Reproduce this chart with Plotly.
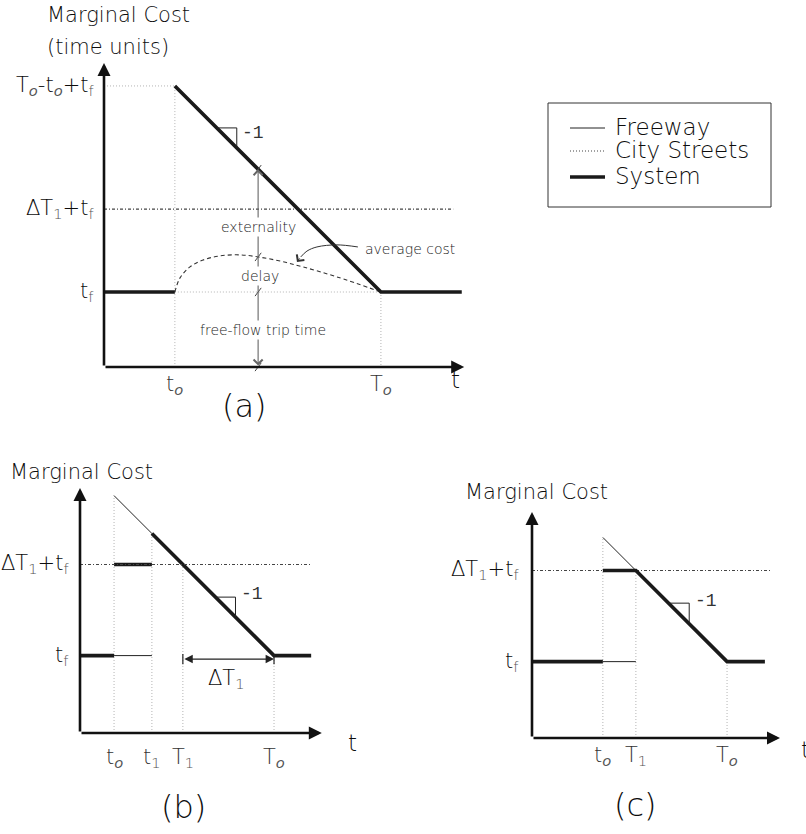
import plotly.graph_objects as go

W, H = 806, 834
S = 34.4  # pixels per data unit (same on both axes so that slope -1 looks like 45 degrees)

FONT = "DejaVu Sans"
WEIGHT = 200
MONO = "Liberation Mono"
TXT = "#0d0d0d"

# ---------------- data: panel (a) ----------------
a_t0 = 2.06
a_T0 = 8.05
a_tf = 2.18
a_dT1tf = 4.59
a_top = a_tf + (a_T0 - a_t0)          # T_o - t_o + t_f
a_xmax = 10.47
a_ymax = 8.84
a_sys_end = 10.4
a_city_end = 10.15
a_probe_t = 4.48
a_avg_t = [a_t0, 2.21, 2.50, 2.88, 3.37, 3.95, 4.48, 5.12, 5.78, 6.77, a_T0]
a_avg_y = [a_tf, 2.59, 2.91, 3.11, 3.23, 3.26, 3.20, 3.08, 2.91, 2.62, a_tf]
a_ptr_t = [7.38, 6.77, 6.19, 5.90, 5.72]
a_ptr_y = [3.49, 3.55, 3.49, 3.37, 3.20]
a_ptr_tip = (5.61, 3.05)
a_slope_y = 6.95

# ---------------- data: panel (b) ----------------
b_t0 = 0.99
b_t1 = 2.09
b_T1 = 2.99
b_T0 = 5.64
b_tf = 2.25
b_dT1 = b_T0 - b_T1
b_lvl = b_tf + b_dT1
b_xmax = 7.03
b_ymax = 7.12
b_sys_end = 6.72
b_city_end = 6.74
b_slope_y = 3.95

# ---------------- data: panel (c) ----------------
c_t0 = 2.06
c_T1 = 3.02
c_T0 = 5.67
c_tf = 2.22
c_dT1 = c_T0 - c_T1
c_lvl = c_tf + c_dT1
c_xmax = 7.21
c_ymax = 6.57
c_sys_end = 6.77
c_city_end = 6.92
c_slope_y = 3.92

O = "<sub><i><span style='color:#555555'>o</span></i></sub>"
F = "<sub><span style='color:#555555'>f</span></sub>"
ONE = "<sub><span style='color:#555555'>1</span></sub>"

legend_names = ["Freeway", "City Streets", "System"]

# ---------------- layout of the three panels (pixel frames) ----------------
panels = {
    "a": dict(sfx="", ox=104, oy=367, xpx=(88, 478), ypx=(52, 382)),
    "b": dict(sfx="2", ox=80, oy=733, xpx=(58, 338), ypx=(478, 748)),
    "c": dict(sfx="3", ox=532, oy=738, xpx=(512, 801), ypx=(498, 752)),
}

fig = go.Figure()
layout_axes = {}
for k, p in panels.items():
    xr = [(p["xpx"][0] - p["ox"]) / S, (p["xpx"][1] - p["ox"]) / S]
    yr = [(p["oy"] - p["ypx"][1]) / S, (p["oy"] - p["ypx"][0]) / S]
    xd = [p["xpx"][0] / W, p["xpx"][1] / W]
    yd = [1 - p["ypx"][1] / H, 1 - p["ypx"][0] / H]
    layout_axes["xaxis" + p["sfx"]] = dict(domain=xd, range=xr, visible=False,
                                           anchor="y" + p["sfx"], fixedrange=True)
    layout_axes["yaxis" + p["sfx"]] = dict(domain=yd, range=yr, visible=False,
                                           anchor="x" + p["sfx"], fixedrange=True)

SYS = dict(width=3.6, color="#1a1a1a")
FWY = dict(width=1.0, color="#222222")
CITY = dict(width=1.1, color="#444444", dash="3px,2px,1px,2px")
HELP = dict(width=1.0, color="#b4b4b4", dash="1px,2px")
AVG = dict(width=1.1, color="#333333", dash="4px,3px")
THIN = dict(width=1.0, color="#222222")


def fnt(size, family=FONT, color=TXT):
    d = dict(size=size, family=family, color=color)
    if family == FONT:
        d["weight"] = WEIGHT
    return d


def line(k, xs, ys, style, shape="linear"):
    sfx = panels[k]["sfx"]
    st = dict(style)
    st["shape"] = shape
    fig.add_trace(go.Scatter(x=xs, y=ys, xaxis="x" + sfx, yaxis="y" + sfx, mode="lines",
                             line=st, showlegend=False, hoverinfo="skip"))


def txt(k, text, x, y, size=20, xanchor="center", yanchor="middle", xshift=0, yshift=0,
        family=FONT, color=TXT, bg=None):
    sfx = panels[k]["sfx"]
    d = dict(x=x, y=y, xref="x" + sfx, yref="y" + sfx, text=text, showarrow=False,
             xanchor=xanchor, yanchor=yanchor, xshift=xshift, yshift=yshift,
             font=fnt(size, family, color))
    if bg:
        d.update(bgcolor=bg, borderpad=1)
    fig.add_annotation(**d)


def arrow(k, x, y, ax, ay, width=2.6, head=2, size=1.0, color="#111111", both=False):
    sfx = panels[k]["sfx"]
    d = dict(x=x, y=y, ax=ax, ay=ay, xref="x" + sfx, yref="y" + sfx, axref="x" + sfx,
             ayref="y" + sfx, text="", showarrow=True, arrowhead=head, arrowsize=size,
             arrowwidth=width, arrowcolor=color, standoff=0, startstandoff=0)
    if both:
        d.update(arrowside="end+start", startarrowhead=head, startarrowsize=size)
    fig.add_annotation(**d)


def paper_txt(text, px, py, size, xanchor="center", yanchor="middle", family=FONT):
    fig.add_annotation(x=px / W, y=1 - py / H, xref="paper", yref="paper", text=text,
                       showarrow=False, xanchor=xanchor, yanchor=yanchor,
                       font=fnt(size, family))


def axes(k, xmax, ymax):
    arrow(k, xmax, 0, 0, 0)
    arrow(k, 0, ymax, 0, 0)


# ================= panel (a) =================
line("a", [0, a_t0, a_t0], [a_top, a_top, 0], HELP)
line("a", [a_t0, a_T0], [a_tf, a_tf], HELP)
line("a", [a_T0, a_T0], [a_tf, 0], HELP)
line("a", [0, a_city_end], [a_dT1tf, a_dT1tf], CITY)
line("a", a_avg_t, a_avg_y, AVG, shape="spline")
line("a", [0, a_t0, None, a_t0, a_T0, a_sys_end], [a_tf, a_tf, None, a_top, a_tf, a_tf], SYS)
axes("a", a_xmax, a_ymax)

# probe line with annotations
a_probe_top = a_tf + a_T0 - a_probe_t
arrow("a", a_probe_t, a_probe_top, a_probe_t, 0, width=1.1, head=4, size=1.6,
      color="#666666", both=True)
a_cuts = [a_probe_top, a_avg_y[a_avg_t.index(a_probe_t)], a_tf, 0]
sx, sy = [], []
for yv in a_cuts:
    sx += [a_probe_t - 0.09, a_probe_t + 0.09, None]
    sy += [yv - 0.12, yv + 0.12, None]
line("a", sx, sy, dict(width=1.0, color="#444444"))
txt("a", "externality", a_probe_t, 4.07, size=14, bg="white", color="#222222")
txt("a", "delay", a_probe_t + 0.05, 2.65, size=14, bg="white", color="#222222")
txt("a", "free-flow trip time", a_probe_t + 0.14, 1.08, size=14, bg="white", color="#222222")

# average cost pointer
line("a", a_ptr_t, a_ptr_y, dict(width=1.0, color="#333333"), shape="spline")
arrow("a", a_ptr_tip[0], a_ptr_tip[1], a_ptr_t[-1], a_ptr_y[-1], width=1.0, head=4,
      size=1.8, color="#333333")
txt("a", "average cost", 7.53, 3.43, size=14, xanchor="left", color="#222222")

# slope triangle
a_sl_t = a_tf + a_T0 - a_slope_y
a_sl_t2 = a_sl_t + 0.58
line("a", [a_sl_t, a_sl_t2, a_sl_t2], [a_slope_y, a_slope_y, a_tf + a_T0 - a_sl_t2], THIN)
txt("a", "-1", a_sl_t2 + 0.1, a_slope_y - 0.14, size=18, xanchor="left", family=MONO, color="#333333")

# tick labels
for v, t in zip([a_top, a_dT1tf, a_tf], ["T" + O + "-t" + O + "+t" + F, "ΔT" + ONE + "+t" + F, "t" + F]):
    txt("a", t, 0, v, size=21, xanchor="right", xshift=-8)
for v, t in zip([a_t0, a_T0], ["t" + O, "T" + O]):
    txt("a", t, v, 0, size=21, yshift=-18, color="#333333")
paper_txt("Marginal Cost", 45, 15, 21, xanchor="left")
paper_txt("(time units)", 45, 47, 21, xanchor="left")
paper_txt("t", 455, 380, 23)
paper_txt("(a)", 245, 406, 32)

# ================= panel (b) =================
b_diag = lambda t: b_tf + b_T0 - t
for tv, top in [(b_t0, b_diag(b_t0)), (b_t1, b_diag(b_t1)), (b_T1, b_lvl), (b_T0, b_tf)]:
    line("b", [tv, tv], [0, top], HELP)
line("b", [b_t0, b_t1, None, b_t0, b_t1], [b_diag(b_t0), b_diag(b_t1), None, b_tf, b_tf], FWY)
line("b", [0, b_t0, None, b_t0, b_t1, None, b_t1, b_T0, b_sys_end],
     [b_tf, b_tf, None, b_lvl, b_lvl, None, b_diag(b_t1), b_tf, b_tf], SYS)
line("b", [0, b_city_end], [b_lvl, b_lvl], CITY)
axes("b", b_xmax, b_ymax)

# Delta T1 dimension arrow
b_dim_y = 2.15
b_mid = (b_T1 + b_T0) / 2
arrow("b", b_T0, b_dim_y, b_T1, b_dim_y, width=1.2, head=2, size=1.4, color="#222222", both=True)
line("b", [b_T1, b_T1, None, b_T0, b_T0], [b_dim_y - 0.15, b_dim_y + 0.15, None, b_dim_y - 0.15, b_dim_y + 0.15],
     dict(width=1.2, color="#222222"))
txt("b", "ΔT" + ONE, b_mid - 0.05, b_dim_y - 0.57, size=21)

b_sl_t = b_tf + b_T0 - b_slope_y
b_sl_t2 = b_sl_t + 0.58
line("b", [b_sl_t, b_sl_t2, b_sl_t2], [b_slope_y, b_slope_y, b_diag(b_sl_t2)], THIN)
txt("b", "-1", b_sl_t2 + 0.1, b_slope_y + 0.08, size=18, xanchor="left", family=MONO, color="#333333")

for v, t in zip([b_lvl, b_tf], ["ΔT" + ONE + "+t" + F, "t" + F]):
    txt("b", t, 0, v, size=21, xanchor="right", xshift=-9)
for v, t in zip([b_t0, b_t1, b_T1, b_T0], ["t" + O, "t" + ONE, "T" + ONE, "T" + O]):
    txt("b", t, v, 0, size=21, yshift=-25, color="#333333")
paper_txt("Marginal Cost", 8, 472, 21, xanchor="left")
paper_txt("t", 352, 743, 23)
paper_txt("(b)", 183, 807, 32)

# ================= panel (c) =================
c_diag = lambda t: c_tf + c_T0 - t
for tv, top in [(c_t0, c_diag(c_t0)), (c_T1, c_lvl), (c_T0, c_tf)]:
    line("c", [tv, tv], [0, top], HELP)
line("c", [0, c_city_end], [c_lvl, c_lvl], CITY)
line("c", [c_t0, c_T1, None, c_t0, c_T1], [c_diag(c_t0), c_lvl, None, c_tf, c_tf], FWY)
line("c", [0, c_t0, None, c_t0, c_T1, c_T0, c_sys_end],
     [c_tf, c_tf, None, c_lvl, c_lvl, c_tf, c_tf], SYS)
axes("c", c_xmax, c_ymax)

c_sl_t = c_tf + c_T0 - c_slope_y
c_sl_t2 = c_sl_t + 0.6
line("c", [c_sl_t, c_sl_t2, c_sl_t2], [c_slope_y, c_slope_y, c_diag(c_sl_t2)], THIN)
txt("c", "-1", c_sl_t2 + 0.1, c_slope_y + 0.05, size=18, xanchor="left", family=MONO, color="#333333")

for v, t in zip([c_lvl, c_tf], ["ΔT" + ONE + "+t" + F, "t" + F]):
    txt("c", t, 0, v, size=21, xanchor="right", xshift=-11)
for v, t in zip([c_t0, c_T1, c_T0], ["t" + O, "T" + ONE, "T" + O]):
    txt("c", t, v, 0, size=21, yshift=-18, color="#333333")
paper_txt("Marginal Cost", 463, 492, 21, xanchor="left")
paper_txt("t", 799, 750, 23, xanchor="left")
paper_txt("(c)", 635, 805, 32)

# ================= legend box =================
shapes = [dict(type="rect", xref="paper", yref="paper", x0=548 / W, x1=771 / W,
               y0=1 - 207 / H, y1=1 - 103 / H, line=dict(width=1, color="#333333"))]
leg_styles = [dict(width=1.0, color="#222222"),
              dict(width=1.2, color="#444444", dash="1px,2px"),
              dict(width=3.6, color="#1a1a1a")]
leg_rows = [128, 151, 177]
for name, st, py in zip(legend_names, leg_styles, leg_rows):
    shapes.append(dict(type="line", xref="paper", yref="paper", x0=570 / W, x1=605 / W,
                       y0=1 - py / H, y1=1 - py / H, line=st))
    paper_txt(name, 613, py - 1, 23, xanchor="left")

fig.update_layout(width=W, height=H, margin=dict(l=0, r=0, t=0, b=0),
                  paper_bgcolor="white", plot_bgcolor="rgba(0,0,0,0)",
                  showlegend=False, shapes=shapes, **layout_axes)

fig.write_html("out.html", config={"displayModeBar": False},
               post_script="document.body.style.margin='0';document.body.style.overflow='hidden';")
